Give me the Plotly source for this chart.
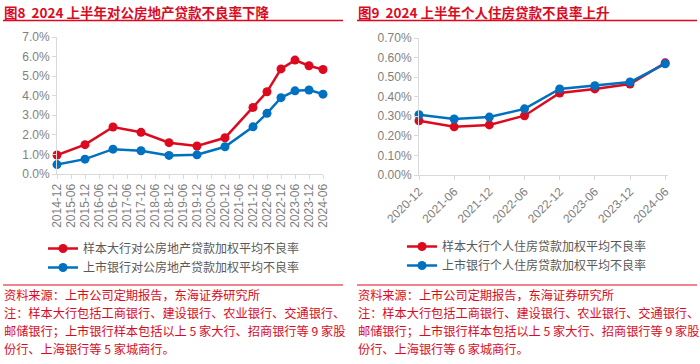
import plotly.graph_objects as go

W, H = 700, 364

# ---------------- data ----------------
left_ticks = ["2014-12", "2015-06", "2015-12", "2016-06", "2016-12", "2017-06", "2017-12",
              "2018-06", "2018-12", "2019-06", "2019-12", "2020-06", "2020-12", "2021-06",
              "2021-12", "2022-06", "2022-12", "2023-06", "2023-12", "2024-06"]
left_dates = ["2014-12", "2015-12", "2016-12", "2017-12", "2018-12", "2019-12", "2020-12",
              "2021-12", "2022-06", "2022-12", "2023-06", "2023-12", "2024-06"]
left_big = [0.97, 1.50, 2.40, 2.13, 1.60, 1.43, 1.85, 3.40, 4.20, 5.37, 5.82, 5.53, 5.34]
left_listed = [0.48, 0.76, 1.27, 1.19, 0.95, 0.98, 1.39, 2.41, 3.10, 3.90, 4.25, 4.29, 4.08]

right_dates = ["2020-12", "2021-06", "2021-12", "2022-06", "2022-12", "2023-06", "2023-12", "2024-06"]
right_big = [0.277, 0.246, 0.256, 0.303, 0.419, 0.440, 0.465, 0.573]
right_listed = [0.308, 0.286, 0.296, 0.338, 0.440, 0.456, 0.475, 0.568]

left_names = ["样本大行对公房地产贷款加权平均不良率", "上市银行对公房地产贷款加权平均不良率"]
right_names = ["样本大行个人住房贷款加权平均不良率", "上市银行个人住房贷款加权平均不良率"]

left_title = "图8  2024 上半年对公房地产贷款不良率下降"
right_title = "图9  2024 上半年个人住房贷款不良率上升"
left_foot = ["资料来源：上市公司定期报告，东海证券研究所",
             "注：样本大行包括工商银行、建设银行、农业银行、交通银行、",
             "邮储银行；上市银行样本包括以上 5 家大行、招商银行等 9 家股",
             "份行、上海银行等 5 家城商行。"]
right_foot = ["资料来源：上市公司定期报告，东海证券研究所",
              "注：样本大行包括工商银行、建设银行、农业银行、交通银行、",
              "邮储银行；上市银行样本包括以上 5 家大行、招商银行等 9 家股",
              "份行、上海银行等 6 家城商行。"]

# ---------------- style ----------------
RED = "#dc0a1e"
BLUE = "#0070c0"
TITLE_RED = "#dc0a1e"
GRAY = "#7f7f7f"
AXIS = "#d9d9d9"
CJK = "Noto Sans CJK SC"
LAT = "Liberation Sans, Arial"


def px(x):
    return x / W


def py(y):
    return 1 - y / H


fig = go.Figure()

fig.add_trace(go.Scatter(x=left_dates, y=left_big, name=left_names[0], mode="lines+markers",
                         line=dict(color=RED, width=2.5), marker=dict(color=RED, size=9),
                         cliponaxis=False, xaxis="x", yaxis="y", legend="legend"))
fig.add_trace(go.Scatter(x=left_dates, y=left_listed, name=left_names[1], mode="lines+markers",
                         line=dict(color=BLUE, width=2.5), marker=dict(color=BLUE, size=9),
                         cliponaxis=False, xaxis="x", yaxis="y", legend="legend"))
fig.add_trace(go.Scatter(x=right_dates, y=right_big, name=right_names[0], mode="lines+markers",
                         line=dict(color=RED, width=2.5), marker=dict(color=RED, size=9),
                         cliponaxis=False, xaxis="x2", yaxis="y2", legend="legend2"))
fig.add_trace(go.Scatter(x=right_dates, y=right_listed, name=right_names[1], mode="lines+markers",
                         line=dict(color=BLUE, width=2.5), marker=dict(color=BLUE, size=9),
                         cliponaxis=False, xaxis="x2", yaxis="y2", legend="legend2"))

axis_common = dict(showgrid=False, zeroline=False, showline=True, linecolor=AXIS, linewidth=1,
                   ticks="outside", ticklen=4, tickcolor=AXIS, automargin=False,
                   tickfont=dict(family=LAT, size=12, color=GRAY))

fig.update_layout(
    width=W, height=H, margin=dict(l=0, r=0, t=0, b=0, pad=0, autoexpand=False),
    paper_bgcolor="white", plot_bgcolor="white",
    font=dict(family=CJK, color=GRAY),
    xaxis=dict(domain=[px(57), px(323)], anchor="y", type="category", categoryorder="array",
               categoryarray=left_ticks, tickvals=left_ticks, range=[0, 19], tickangle=-90, **axis_common),
    yaxis=dict(domain=[py(174), py(37)], anchor="x", range=[0, 7], dtick=1, tickformat=".1f",
               ticksuffix="%", **axis_common),
    xaxis2=dict(domain=[px(419), px(668)], anchor="y2", type="category", categoryorder="array",
                categoryarray=right_dates, tickvals=right_dates, range=[0, 7.08], tickangle=-45, **axis_common),
    yaxis2=dict(domain=[py(175), py(38)], anchor="x2", range=[0, 0.7], dtick=0.1, tickformat=".2f",
                ticksuffix="%", **axis_common),
    legend=dict(x=px(43), y=py(234), xanchor="left", yanchor="top", bgcolor="rgba(0,0,0,0)",
                font=dict(family=CJK, size=12, color="#595959"), itemwidth=30, tracegroupgap=0),
    legend2=dict(x=px(402), y=py(232), xanchor="left", yanchor="top", bgcolor="rgba(0,0,0,0)",
                 font=dict(family=CJK, size=12, color="#595959"), itemwidth=30, tracegroupgap=0),
    showlegend=True,
)

annotations = []
shapes = []
for x0, x1, title, foot in [(3, 343, left_title, left_foot), (357, 697, right_title, right_foot)]:
    annotations.append(dict(x=px(x0 - 1), y=py(12), xref="paper", yref="paper", xanchor="left",
                            yanchor="middle", showarrow=False, text="<b>" + title + "</b>",
                            font=dict(family=CJK, size=13.5, color=TITLE_RED)))
    shapes.append(dict(type="line", xref="paper", yref="paper", x0=px(x0), x1=px(x1),
                       y0=py(20.5), y1=py(20.5), line=dict(color=TITLE_RED, width=1.5)))
    shapes.append(dict(type="line", xref="paper", yref="paper", x0=px(x0), x1=px(x1),
                       y0=py(285), y1=py(285), line=dict(color=TITLE_RED, width=1.2)))
    for i, line in enumerate(foot):
        annotations.append(dict(x=px(x0 - 1), y=py(295 + 18 * i), xref="paper", yref="paper",
                                xanchor="left", yanchor="middle", showarrow=False, text=line,
                                font=dict(family=CJK, size=12.2, color=RED)))

fig.update_layout(annotations=annotations, shapes=shapes)
fig.write_html("out.html", config={"displayModeBar": False},
               post_script="document.body.style.margin='0px';document.body.style.overflow='hidden';")
